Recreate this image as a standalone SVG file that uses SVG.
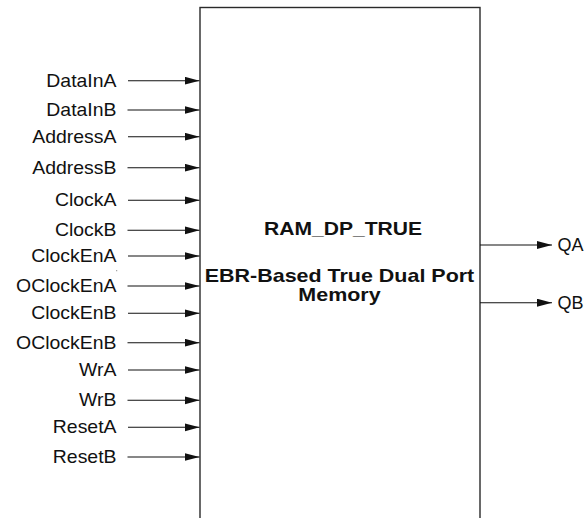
<svg xmlns="http://www.w3.org/2000/svg" width="587" height="518" viewBox="0 0 587 518">
  <style>
    .lbl { font-family: "Liberation Sans", Arial, sans-serif; font-size: 18px; fill: #111; }
    .in { text-anchor: end; }
    .title { font-family: "Liberation Sans", Arial, sans-serif; font-size: 19px; font-weight: bold; fill: #111; text-anchor: middle; }
    .wire { stroke: #111; stroke-width: 1.1; fill: none; marker-end: url(#arrow); }
    .box { fill: #fff; stroke: #2a2a2a; stroke-width: 1.4; }
  </style>
  <defs>
    <marker id="arrow" markerUnits="userSpaceOnUse" markerWidth="15" markerHeight="9" refX="15" refY="4" orient="auto">
      <path d="M0,0 L15,4 L0,8 z" fill="#111"/>
    </marker>
  </defs>

  <rect width="587" height="518" fill="#fff"/>

  <!-- memory block; its lower edge runs past the canvas -->
  <g id="ram_dp_true">
    <rect class="box" x="200" y="7.5" width="280" height="530"/>
    <text class="title" transform="translate(343,235) scale(1.11,1)">RAM_DP_TRUE</text>
    <text class="title" transform="translate(339.5,281.5) scale(1.13,1)">EBR-Based True Dual Port</text>
    <text class="title" transform="translate(339.5,300.5) scale(1.13,1)">Memory</text>
  </g>

  <!-- port signals -->
  <g id="inputs">
    <text class="lbl in" transform="translate(116.5,86.8) scale(1.08,1)">DataInA</text>
    <text class="lbl in" transform="translate(116.5,116.1) scale(1.08,1)">DataInB</text>
    <text class="lbl in" transform="translate(116.5,142.8) scale(1.08,1)">AddressA</text>
    <text class="lbl in" transform="translate(116.5,173.8) scale(1.08,1)">AddressB</text>
    <text class="lbl in" transform="translate(116.5,206.4) scale(1.08,1)">ClockA</text>
    <text class="lbl in" transform="translate(116.5,236.4) scale(1.08,1)">ClockB</text>
    <text class="lbl in" transform="translate(116.5,262.1) scale(1.08,1)">ClockEnA</text>
    <text class="lbl in" transform="translate(116.5,292.1) scale(1.08,1)">OClockEnA</text>
    <text class="lbl in" transform="translate(116.5,319.4) scale(1.08,1)">ClockEnB</text>
    <text class="lbl in" transform="translate(116.5,348.8) scale(1.08,1)">OClockEnB</text>
    <text class="lbl in" transform="translate(116.5,376.1) scale(1.08,1)">WrA</text>
    <text class="lbl in" transform="translate(116.5,406.4) scale(1.08,1)">WrB</text>
    <text class="lbl in" transform="translate(116.5,433.4) scale(1.08,1)">ResetA</text>
    <text class="lbl in" transform="translate(116.5,463.1) scale(1.08,1)">ResetB</text>
    <circle cx="116.7" cy="270.7" r="0.6" fill="#888"/>
  </g>

  <g id="outputs">
    <text class="lbl" x="557.5" y="251.3">QA</text>
    <text class="lbl" x="557.5" y="309">QB</text>
  </g>

  <!-- connectors -->
  <g id="connectors">
    <path class="wire" d="M128,80.7 H199.5"/>
    <path class="wire" d="M127.5,110 H199.5"/>
    <path class="wire" d="M128,136.7 H199.5"/>
    <path class="wire" d="M127.5,167.7 H199.5"/>
    <path class="wire" d="M128,200.3 H199.5"/>
    <path class="wire" d="M127.5,230.3 H199.5"/>
    <path class="wire" d="M128,256 H199.5"/>
    <path class="wire" d="M127.5,286 H199.5"/>
    <path class="wire" d="M128,313.3 H199.5"/>
    <path class="wire" d="M127.5,342.7 H199.5"/>
    <path class="wire" d="M128,370 H199.5"/>
    <path class="wire" d="M127.5,400.3 H199.5"/>
    <path class="wire" d="M128,427.3 H199.5"/>
    <path class="wire" d="M127.5,457 H199.5"/>
    <path class="wire" d="M480,245 H552"/>
    <path class="wire" d="M480,302.7 H552"/>
  </g>
</svg>
